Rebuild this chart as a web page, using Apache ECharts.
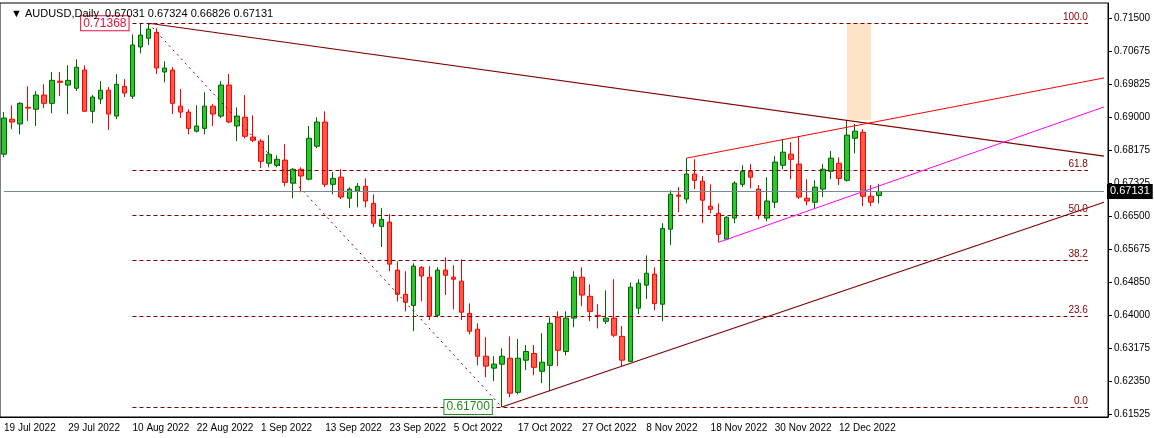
<!DOCTYPE html>
<html>
<head>
<meta charset="utf-8">
<script src="https://cdn.jsdelivr.net/npm/echarts@6/dist/echarts.min.js"></script>
<style>html,body{margin:0;padding:0;background:#fff}#chart{width:1154px;height:438px}</style>
</head>
<body>
<div id="chart"></div>
<script>
// daily bars: [open, close, low, high]
const ohlc = [
  [0.6807,0.6898,0.6799,0.6913],[0.6895,0.6888,0.6870,0.6930],[0.6883,0.6935,0.6857,0.6938],[0.6925,0.6923,0.6890,0.6978],
  [0.6920,0.6956,0.6878,0.6966],[0.6956,0.6935,0.6923,0.6983],[0.6935,0.6993,0.6910,0.7014],[0.6991,0.6988,0.6953,0.7014],
  [0.6981,0.6993,0.6908,0.7031],[0.6973,0.7026,0.6966,0.7046],[0.7019,0.6915,0.6913,0.7031],[0.6915,0.6951,0.6885,0.6956],
  [0.6946,0.6968,0.6933,0.6991],[0.6968,0.6908,0.6868,0.6976],[0.6903,0.6983,0.6895,0.7009],[0.6978,0.6961,0.6951,0.6996],
  [0.6953,0.7082,0.6946,0.7109],[0.7077,0.7107,0.7061,0.7135],[0.7099,0.7122,0.7082,0.71368],[0.7114,0.7024,0.7009,0.7124],
  [0.7014,0.7024,0.6988,0.7041],[0.7019,0.6935,0.6908,0.7026],[0.6928,0.6913,0.6898,0.6971],[0.6913,0.6872,0.6857,0.6920],
  [0.6865,0.6878,0.6862,0.6930],[0.6872,0.6928,0.6857,0.6963],[0.6928,0.6908,0.6878,0.6933],[0.6903,0.6981,0.6898,0.6991],
  [0.6981,0.6888,0.6885,0.7009],[0.6878,0.6903,0.6840,0.6925],[0.6900,0.6852,0.6847,0.6956],[0.6850,0.6842,0.6837,0.6905],
  [0.6840,0.6789,0.6772,0.6845],[0.6784,0.6807,0.6774,0.6855],[0.6779,0.6794,0.6774,0.6804],[0.6792,0.6736,0.6726,0.6832],
  [0.6734,0.6769,0.6696,0.6772],[0.6769,0.6752,0.6711,0.6774],[0.6744,0.6847,0.6741,0.6878],[0.6827,0.6888,0.6822,0.6900],
  [0.6888,0.6731,0.6724,0.6915],[0.6731,0.6746,0.6706,0.6762],[0.6749,0.6699,0.6694,0.6769],[0.6696,0.6719,0.6671,0.6724],
  [0.6714,0.6726,0.6673,0.6734],[0.6726,0.6689,0.6673,0.6746],[0.6683,0.6633,0.6623,0.6706],[0.6625,0.6643,0.6573,0.6671],
  [0.6636,0.6530,0.6512,0.6656],[0.6515,0.6454,0.6436,0.6537],[0.6454,0.6434,0.6411,0.6512],[0.6426,0.6525,0.6361,0.6532],
  [0.6522,0.6500,0.6436,0.6525],[0.6497,0.6399,0.6389,0.6525],[0.6401,0.6515,0.6396,0.6522],[0.6515,0.6502,0.6452,0.6547],
  [0.6497,0.6492,0.6416,0.6527],[0.6487,0.6409,0.6389,0.6542],[0.6406,0.6361,0.6353,0.6431],[0.6366,0.6298,0.6275,0.6381],
  [0.6298,0.6273,0.6245,0.6346],[0.6268,0.6278,0.6235,0.6298],[0.6278,0.6298,0.6170,0.6318],[0.6293,0.6205,0.6195,0.6348],
  [0.6207,0.6293,0.6202,0.6341],[0.6288,0.6310,0.6263,0.6326],[0.6305,0.6270,0.6250,0.6326],[0.6260,0.6283,0.6230,0.6356],
  [0.6275,0.6381,0.6210,0.6396],[0.6396,0.6313,0.6273,0.6411],[0.6310,0.6394,0.6300,0.6411],[0.6394,0.6497,0.6371,0.6512],
  [0.6497,0.6452,0.6424,0.6522],[0.6449,0.6411,0.6386,0.6479],[0.6401,0.6399,0.6368,0.6429],[0.6386,0.6394,0.6379,0.6464],
  [0.6394,0.6351,0.6346,0.6492],[0.6348,0.6288,0.6273,0.6374],[0.6285,0.6472,0.6285,0.6484],[0.6419,0.6482,0.6404,0.6492],
  [0.6477,0.6507,0.6442,0.6552],[0.6505,0.6431,0.6414,0.6522],[0.6429,0.6620,0.6386,0.6633],[0.6618,0.6706,0.6578,0.6716],
  [0.6704,0.6701,0.6661,0.6724],[0.6694,0.6757,0.6683,0.6797],[0.6757,0.6741,0.6719,0.6794],[0.6739,0.6691,0.6633,0.6752],
  [0.6676,0.6668,0.6658,0.6731],[0.6658,0.6605,0.6585,0.6683],[0.6593,0.6648,0.6590,0.6651],[0.6646,0.6734,0.6633,0.6739],
  [0.6731,0.6764,0.6724,0.6779],[0.6764,0.6749,0.6721,0.6782],[0.6719,0.6653,0.6643,0.6729],[0.6646,0.6689,0.6638,0.6749],
  [0.6686,0.6787,0.6671,0.6802],[0.6779,0.6812,0.6769,0.6845],[0.6807,0.6794,0.6744,0.6837],[0.6782,0.6699,0.6694,0.6852],
  [0.6696,0.6689,0.6678,0.6744],[0.6686,0.6724,0.6671,0.6741],[0.6719,0.6769,0.6699,0.6782],[0.6764,0.6797,0.6744,0.6815],
  [0.6784,0.6746,0.6729,0.6799],[0.6741,0.6855,0.6738,0.6893],[0.6847,0.6865,0.6809,0.6883],[0.6862,0.6701,0.6676,0.6870],
  [0.6701,0.6686,0.6676,0.6729],[0.67031,0.67131,0.66826,0.67324]
];
const yTicks = [0.61525,0.62350,0.63175,0.64000,0.64850,0.65675,0.66500,0.67325,0.68175,0.69000,0.69825,0.70675,0.71500];
const fibLevels = [0.0, 23.6, 38.2, 50.0, 61.8, 100.0];
const swingHigh = 0.71368, swingLow = 0.61700;
const lastPrice = 0.67131;
const futureBars = 28;

const months = ['Jan','Feb','Mar','Apr','May','Jun','Jul','Aug','Sep','Oct','Nov','Dec'];
const dates = [];
let d = new Date(2022, 6, 19);
while (dates.length < ohlc.length) {
  if (d.getDay() !== 0 && d.getDay() !== 6) dates.push(d.getDate() + ' ' + months[d.getMonth()] + ' ' + d.getFullYear());
  d.setDate(d.getDate() + 1);
}
for (let i = 0; i < futureBars; i++) dates.push('');
const lastIdx = dates.length - 1;

const dark = '#800000';
const seg = (a, b, color, type, width) => [
  { coord: a, lineStyle: { color, type: type || 'solid', width: width || 1 } }, { coord: b }
];
const fibLines = fibLevels.map(l => {
  const v = swingLow + (swingHigh - swingLow) * l / 100;
  return [
    { coord: [16, v], lineStyle: { color: dark, type: [4, 3], width: 1 },
      label: { show: true, formatter: l.toFixed(1), position: 'insideEndTop', color: dark, fontSize: 10, distance: [0, 1] } },
    { coord: [lastIdx - 2, v] }
  ];
});

const chart = echarts.init(document.getElementById('chart'));
chart.setOption({
  animation: false,
  textStyle: { fontFamily: 'Liberation Sans, Arial' },
  title: { text: '▼ AUDUSD,Daily  0.67031 0.67324 0.66826 0.67131', left: 6, top: 3,
    textStyle: { fontSize: 11, fontWeight: 'normal', color: '#000' } },
  grid: { left: 0, right: 46, top: 3, bottom: 21, show: true, borderColor: '#000', borderWidth: 1 },
  xAxis: {
    type: 'category', data: dates, boundaryGap: true,
    axisLine: { lineStyle: { color: '#000' } },
    axisTick: { interval: 7, alignWithLabel: true, length: 4, lineStyle: { color: '#000' } },
    axisLabel: { interval: 7, align: 'left', margin: 6, color: '#000', fontSize: 10 },
    splitLine: { show: false }
  },
  yAxis: {
    type: 'value', position: 'right', min: 0.61449, max: 0.71878, scale: true,
    axisLine: { show: true, lineStyle: { color: '#000' } },
    axisTick: { show: true, customValues: yTicks, length: 4, inside: false, lineStyle: { color: '#000' } },
    axisLabel: { customValues: yTicks, formatter: v => v.toFixed(5), color: '#000', fontSize: 10, margin: 6 },
    splitLine: { show: false }
  },
  series: [{
    type: 'candlestick', data: ohlc, barWidth: 5,
    itemStyle: { color: '#2ec52e', color0: '#ff5a4a', borderColor: '#006400', borderColor0: '#ff0000', borderWidth: 1 },
    markArea: { silent: true, itemStyle: { color: '#fde3c6' },
      data: [[{ xAxis: 105, yAxis: swingHigh }, { xAxis: 108, yAxis: 0.6893 }]] },
    markLine: {
      silent: true, symbol: 'none', label: { show: false },
      data: [
        ...fibLines,
        seg([18, swingHigh], [62, swingLow], dark, [2, 4]),
        seg([18, swingHigh], [lastIdx, 0.6802], dark, 'solid', 1.2),
        seg([62, swingLow], [lastIdx, 0.6686], dark, 'solid', 1.2),
        seg([85, 0.6797], [lastIdx, 0.6999], '#ff0000'),
        seg([89, 0.6585], [lastIdx, 0.6926], '#ff00ff'),
        [{ coord: [0, lastPrice], lineStyle: { color: '#778899', type: 'solid', width: 1 },
           label: { show: true, position: 'end', formatter: lastPrice.toFixed(5), color: '#fff',
             backgroundColor: '#000', padding: [2, 3], fontSize: 11, distance: 3 } },
         { coord: [lastIdx, lastPrice] }]
      ]
    },
    markPoint: {
      silent: true, symbol: 'rect', symbolSize: [0, 0],
      data: [
        { coord: [18, swingHigh], label: { show: true, position: 'left', distance: 20, formatter: '0.71368',
            color: '#dc143c', borderColor: '#dc143c', borderWidth: 1, backgroundColor: '#fff', padding: [1, 2], fontSize: 12 } },
        { coord: [62, swingLow], label: { show: true, position: 'left', distance: 10, formatter: '0.61700',
            color: '#228b22', borderColor: '#228b22', borderWidth: 1, backgroundColor: '#fff', padding: [1, 2], fontSize: 12 } }
      ]
    }
  }]
});
</script>
</body>
</html>
